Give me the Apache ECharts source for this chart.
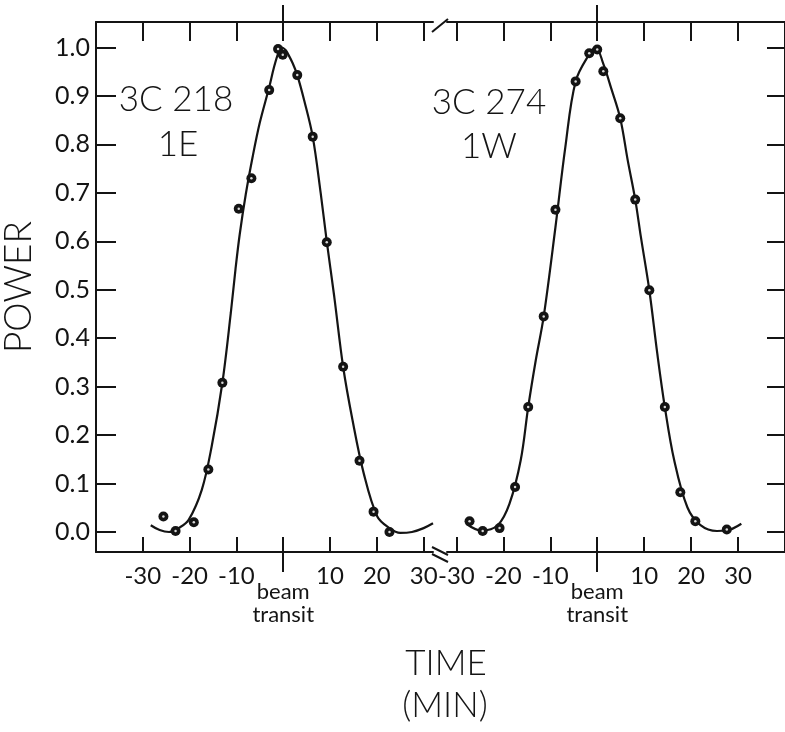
<!DOCTYPE html>
<html>
<head>
<meta charset="utf-8">
<script src="https://cdn.jsdelivr.net/npm/echarts@6/dist/echarts.min.js"></script>
<style>
  html, body { margin: 0; padding: 0; background: #fff; }
  #chart { width: 785px; height: 732px; }
</style>
</head>
<body>
<div id="chart"></div>
<script>
// Power axis ticks and time axis ticks (minutes from beam transit)
const powerTicks = [0, 0.1, 0.2, 0.3, 0.4, 0.5, 0.6, 0.7, 0.8, 0.9, 1.0];
const timeTicks = [-30, -20, -10, 0, 10, 20, 30];
const timeLabels = [-30, -20, -10, 10, 20, 30];

// 3C 218, beam 1E: measured points
const t218 = [-25.6, -23.0, -19.1, -16.0, -13.0, -9.5, -6.8, -3.0, -1.1, -0.1, 3.0, 6.3, 9.3, 12.8, 16.3, 19.3, 22.7];
const p218 = [0.032, 0.002, 0.020, 0.129, 0.308, 0.667, 0.730, 0.912, 0.997, 0.985, 0.943, 0.816, 0.598, 0.341, 0.147, 0.042, 0.000];
// 3C 218, fitted beam curve
const ft218 = [-28.3, -26.4, -24.4, -22.2, -20.2, -17.4, -15.3, -13.0, -11.2, -10.2, -9.3, -8.0, -6.5, -5.0, -3.0, -2.0, -1.0, -0.3, 0.5, 1.0, 2.0, 3.0, 4.5, 6.3, 8.0, 9.3, 10.9, 12.8, 14.8, 17.2, 20.1, 22.7, 25.0, 27.5, 30.0, 32.0];
const fp218 = [0.014, 0.004, 0.000, 0.009, 0.025, 0.087, 0.176, 0.308, 0.452, 0.542, 0.614, 0.697, 0.776, 0.845, 0.918, 0.958, 0.990, 1.000, 0.995, 0.987, 0.968, 0.943, 0.890, 0.816, 0.700, 0.600, 0.486, 0.341, 0.231, 0.121, 0.032, 0.008, -0.002, 0.000, 0.008, 0.018];

// 3C 274, beam 1W: measured points
const t274 = [-27.2, -24.4, -20.8, -17.5, -14.7, -11.4, -8.9, -4.6, -1.7, 0.0, 1.3, 4.9, 8.1, 11.1, 14.4, 17.7, 20.9, 27.6];
const p274 = [0.022, 0.002, 0.008, 0.093, 0.258, 0.445, 0.665, 0.930, 0.988, 0.996, 0.951, 0.854, 0.686, 0.499, 0.258, 0.082, 0.022, 0.005];
// 3C 274, fitted beam curve
const ft274 = [-27.9, -24.7, -21.2, -18.7, -16.3, -14.7, -13.1, -11.4, -8.9, -6.8, -4.6, -1.7, -0.3, 1.3, 3.0, 4.9, 6.5, 8.1, 9.3, 11.1, 12.8, 14.4, 16.4, 19.2, 22.0, 25.5, 27.6, 30.7];
const fp274 = [0.017, 0.003, 0.014, 0.058, 0.148, 0.258, 0.354, 0.445, 0.629, 0.794, 0.930, 0.986, 1.000, 0.966, 0.915, 0.854, 0.767, 0.686, 0.609, 0.499, 0.368, 0.258, 0.148, 0.051, 0.014, 0.002, 0.003, 0.017];

const zip = (xs, ys) => xs.map((x, i) => [x, ys[i]]);

const INK = '#141414';
const FONT = 'Lato';
const LIGHT = 300;
const lineStyle = { color: INK, width: 2 };

// value range of the power axis (frame extends a little past 0 and 1)
const P_MIN = -0.0413, P_MAX = 1.0526;
const ranges = [[-40, 32], [-32, 40]];

const xAxes = [];
const yAxes = [];
ranges.forEach(([lo, hi], g) => {
  // bottom frame with ticks and minute labels
  xAxes.push({
    type: 'value', gridIndex: g, position: 'bottom', min: lo, max: hi,
    axisLine: { show: true, onZero: false, lineStyle },
    axisTick: { show: true, inside: true, length: 15, customValues: timeTicks, lineStyle },
    axisLabel: { show: true, customValues: timeLabels, fontFamily: FONT, fontSize: 24, color: INK, margin: 12 },
    splitLine: { show: false }
  });
  // top frame
  xAxes.push({
    type: 'value', gridIndex: g, position: 'top', min: lo, max: hi,
    axisLine: { show: true, onZero: false, lineStyle },
    axisTick: { show: true, inside: true, length: 19, customValues: timeTicks, lineStyle },
    axisLabel: { show: false },
    splitLine: { show: false }
  });
  // beam transit mark below the frame
  xAxes.push({
    type: 'value', gridIndex: g, position: 'bottom', min: lo, max: hi,
    axisLine: { show: false, onZero: false },
    axisTick: { show: true, inside: false, length: 20, customValues: [0], lineStyle },
    axisLabel: {
      show: true, customValues: [0], margin: 28,
      formatter: () => 'beam\ntransit',
      fontFamily: FONT, fontSize: 22, lineHeight: 23, color: INK
    },
    splitLine: { show: false }
  });
  // beam transit mark above the frame
  xAxes.push({
    type: 'value', gridIndex: g, position: 'top', min: lo, max: hi,
    axisLine: { show: false, onZero: false },
    axisTick: { show: true, inside: false, length: 17, customValues: [0], lineStyle },
    axisLabel: { show: false },
    splitLine: { show: false }
  });
});

yAxes.push({
  type: 'value', gridIndex: 0, position: 'left', min: P_MIN, max: P_MAX,
  name: 'POWER', nameLocation: 'middle', nameRotate: 90, nameGap: 58,
  nameTextStyle: { fontFamily: FONT, fontWeight: LIGHT, fontSize: 37, color: INK },
  axisLine: { show: true, onZero: false, lineStyle },
  axisTick: { show: true, inside: true, length: 20, customValues: powerTicks, lineStyle },
  axisLabel: {
    show: true, customValues: powerTicks, margin: 6,
    formatter: v => v.toFixed(1),
    fontFamily: FONT, fontSize: 25, color: INK
  },
  splitLine: { show: false }
});
yAxes.push({
  type: 'value', gridIndex: 1, position: 'right', min: P_MIN, max: P_MAX,
  axisLine: { show: true, onZero: false, lineStyle },
  axisTick: { show: true, inside: true, length: 18, customValues: powerTicks, lineStyle },
  axisLabel: { show: false },
  splitLine: { show: false }
});

const textStyle = (text) => ({ text, fontFamily: FONT, fontWeight: LIGHT, fontSize: 35, fill: INK, align: 'center', verticalAlign: 'middle' });

// each measurement: dark disc with a small pale centre
const dots = (x, y, xi, yi) => [
  { type: 'scatter', xAxisIndex: xi, yAxisIndex: yi, data: zip(x, y), symbol: 'circle', symbolSize: 10, itemStyle: { color: INK, opacity: 1 }, z: 3 },
  { type: 'scatter', xAxisIndex: xi, yAxisIndex: yi, data: zip(x, y), symbol: 'circle', symbolSize: 2.5, itemStyle: { color: '#d8d8d8', opacity: 1 }, z: 4, silent: true }
];

const option = {
  backgroundColor: '#fff',
  animation: false,
  grid: [
    { left: 93, top: 22, width: 340, height: 530 },
    { left: 447, top: 22, width: 342, height: 530 }
  ],
  xAxis: xAxes,
  yAxis: yAxes,
  series: [
    { type: 'line', xAxisIndex: 0, yAxisIndex: 0, data: zip(ft218, fp218), smooth: 0.35, showSymbol: false, lineStyle: { color: INK, width: 2.2 }, z: 2 },
    ...dots(t218, p218, 0, 0),
    { type: 'line', xAxisIndex: 4, yAxisIndex: 1, data: zip(ft274, fp274), smooth: 0.35, showSymbol: false, lineStyle: { color: INK, width: 2.2 }, z: 2 },
    ...dots(t274, p274, 4, 1)
  ],
  graphic: [
    // axis break marks
    { type: 'line', shape: { x1: 432, y1: 32, x2: 448, y2: 19 }, style: { stroke: INK, lineWidth: 2 } },
    { type: 'line', shape: { x1: 432, y1: 547, x2: 448, y2: 555 }, style: { stroke: INK, lineWidth: 2 } },
    { type: 'line', shape: { x1: 432, y1: 554, x2: 448, y2: 562 }, style: { stroke: INK, lineWidth: 2 } },
    // source names
    { type: 'text', x: 176, y: 100, style: textStyle('3C 218') },
    { type: 'text', x: 178, y: 145, style: textStyle('1E') },
    { type: 'text', x: 489, y: 103, style: textStyle('3C 274') },
    { type: 'text', x: 489, y: 147, style: textStyle('1W') },
    // shared time axis title
    { type: 'text', x: 446, y: 664, style: textStyle('TIME') },
    { type: 'text', x: 445, y: 706, style: textStyle('(MIN)') }
  ]
};

const chart = echarts.init(document.getElementById('chart'), null, { renderer: 'canvas' });
chart.setOption(option);
</script>
</body>
</html>
